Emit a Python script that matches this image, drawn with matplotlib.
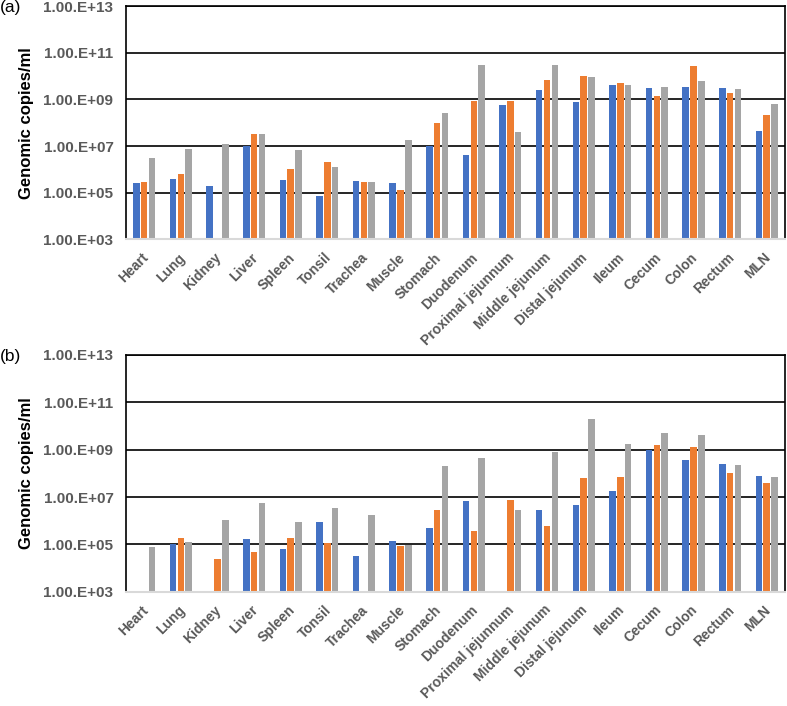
import matplotlib.pyplot as plt
import matplotlib.transforms as mtransforms
import numpy as np

plt.rcParams['font.family'] = ['Liberation Sans', 'DejaVu Sans']

tissues = ["Heart", "Lung", "Kidney", "Liver", "Spleen", "Tonsil", "Trachea",
           "Muscle", "Stomach", "Duodenum", "Proximal jejunnum", "Middle jejunum",
           "Distal jejunum", "Ileum", "Cecum", "Colon", "Rectum", "MLN"]

nan = np.nan

# panel (a), three series per tissue
a_blue = [2.7e5, 4.0e5, 2.0e5, 1.0e7, 3.4e5, 7.0e4, 3.2e5, 2.6e5, 9.8e6, 4.3e6,
          5.8e8, 2.6e9, 7.4e8, 4.3e9, 3.0e9, 3.4e9, 3.2e9, 4.3e7]
a_orange = [2.9e5, 6.5e5, nan, 3.2e7, 1.0e6, 2.0e6, 2.9e5, 1.35e5, 9.8e7, 8.7e8,
            8.7e8, 6.5e9, 1.0e10, 5.0e9, 1.35e9, 2.75e10, 1.8e9, 2.1e8]
a_gray = [3.0e6, 7.4e6, 1.2e7, 3.2e7, 6.5e6, 1.3e6, 2.9e5, 1.8e7, 2.5e8, 3.1e10,
          3.9e7, 3.1e10, 9.3e9, 4.1e9, 3.5e9, 6.2e9, 2.9e9, 6.3e8]

# panel (b)
b_blue = [nan, 1.0e5, nan, 1.7e5, 6.5e4, 8.9e5, 3.2e4, 1.35e5, 4.7e5, 7.1e6,
          nan, 2.9e6, 4.8e6, 1.8e7, 9.5e8, 3.8e8, 2.4e8, 7.8e7]
b_orange = [nan, 1.8e5, 2.5e4, 4.9e4, 1.8e5, 1.1e5, nan, 8.3e4, 2.7e6, 3.8e5,
            7.8e6, 6.0e5, 6.2e7, 7.2e7, 1.55e9, 1.3e9, 1.0e8, 3.9e7]
b_gray = [7.9e4, 1.2e5, 1.07e6, 5.8e6, 8.7e5, 3.4e6, 1.7e6, 9.3e4, 2.1e8, 4.3e8,
          2.75e6, 7.6e8, 2.0e10, 1.8e9, 5.0e9, 4.1e9, 2.3e8, 7.1e7]

ytick_vals = [1e3, 1e5, 1e7, 1e9, 1e11, 1e13]
ytick_labels = ["1.00.E+03", "1.00.E+05", "1.00.E+07", "1.00.E+09", "1.00.E+11", "1.00.E+13"]

colors = ["#4472C4", "#ED7D31", "#A5A5A5"]
tick_grey = "#595959"

fig = plt.figure(figsize=(7.87, 7.06), dpi=100)
ax_a = fig.add_axes([0.160, 0.6608, 0.8375, 0.3307])
ax_b = fig.add_axes([0.160, 0.1619, 0.8375, 0.3353])

# small shift of the slanted labels to the left, like in the original
shift = mtransforms.ScaledTranslation(-3 / 100, 0, fig.dpi_scale_trans)


def draw_panel(ax, series, tag):
    x = np.arange(len(tissues))
    base = 1e3
    for i, vals in enumerate(series):
        vals = np.array(vals, dtype=float)
        ax.bar(x + (i - 1) * 0.213, vals - base, bottom=base, width=0.178,
               color=colors[i], zorder=3)
    ax.set_yscale('log')
    ax.set_ylim(1e3, 1e13)
    ax.set_xlim(-0.5, len(tissues) - 0.5)
    ax.yaxis.set_minor_locator(plt.NullLocator())
    ax.set_yticks(ytick_vals)
    ax.set_yticklabels(ytick_labels)
    ax.set_xticks(x)
    ax.set_xticklabels(tissues, rotation=45, ha='right', rotation_mode='anchor')
    ax.tick_params(axis='both', length=0, colors=tick_grey)
    ax.tick_params(axis='y', pad=9, labelsize=11)
    ax.tick_params(axis='x', pad=8, labelsize=10)
    for lbl in ax.get_xticklabels():
        lbl.set_fontweight('bold')
        lbl.set_transform(lbl.get_transform() + shift)
    for lbl in ax.get_yticklabels():
        lbl.set_fontweight('bold')
    ax.grid(axis='y', color='black', linewidth=1.2, zorder=0)
    for s in ['left', 'top', 'right']:
        ax.spines[s].set_color('black')
        ax.spines[s].set_linewidth(1.2)
    ax.spines['bottom'].set_color('#D9D9D9')
    ax.spines['bottom'].set_linewidth(1.5)
    ax.spines['bottom'].set_zorder(4)
    ax.set_ylabel("Genomic copies/ml", fontsize=12, fontweight='bold', labelpad=7)
    ax.text(-0.191, 0.995, tag, transform=ax.transAxes, fontsize=12.5,
            ha='left', va='center')


draw_panel(ax_a, [a_blue, a_orange, a_gray], "(a)")
draw_panel(ax_b, [b_blue, b_orange, b_gray], "(b)")

fig.savefig("out.png", dpi=100)
